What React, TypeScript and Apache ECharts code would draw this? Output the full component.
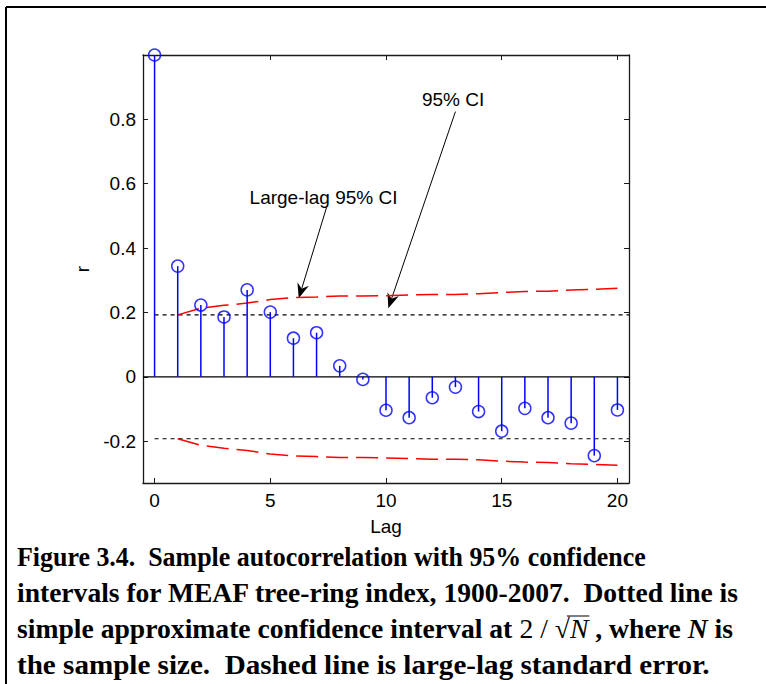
import React, { useEffect, useRef } from "react";
import * as echarts from "echarts";

// ---- data ----
const lags = [0, 1, 2, 3, 4, 5, 6, 7, 8, 9, 10, 11, 12, 13, 14, 15, 16, 17, 18, 19, 20];
const acf = [1.0, 0.344, 0.223, 0.186, 0.270, 0.201, 0.120, 0.137, 0.034, -0.008, -0.104, -0.127, -0.065, -0.032, -0.108, -0.169, -0.098, -0.127, -0.144, -0.245, -0.103];
const ciLags = [1, 2, 3, 4, 5, 6, 7, 8, 9, 10, 11, 12, 13, 14, 15, 16, 17, 18, 19, 20];
const largeLagCI = [0.1925, 0.213, 0.222, 0.229, 0.240, 0.246, 0.248, 0.251, 0.251, 0.252, 0.254, 0.256, 0.256, 0.258, 0.262, 0.265, 0.266, 0.270, 0.272, 0.275];
const simpleCI = 0.1925;
const simpleCIRange = [0, 20.5];
const xRange = [-0.5, 20.5];
const yRange = [-0.33, 1.0];
const xTicks = [0, 5, 10, 15, 20];
const yTicks = [-0.2, 0, 0.2, 0.4, 0.6, 0.8];

// annotations (data coordinates)
const annLabels = ["Large-lag 95% CI", "95% CI"];
const annTextAt = [[7.3, 0.557], [12.9, 0.862]];
const annTail = [[7.43, 0.526], [13.0, 0.824]];
const annTip = [[6.23, 0.244], [10.1, 0.213]];

const captionLines = [
  "Figure 3.4.\u00a0 Sample autocorrelation with 95% confidence",
  "intervals for MEAF tree-ring index, 1900-2007.\u00a0 Dotted line is",
  "",
  "the sample size.\u00a0 Dashed line is large-lag standard error.",
];
const caption3 = ["simple approximate confidence interval at ", "2 / \u221a", "N", " , where ", "N", " is"];
const captionRightEdge = [646, 740, 733, 710];

const SANS = "'Liberation Sans', Arial, sans-serif";
const SERIF = "'Liberation Serif', 'Times New Roman', serif";
const AX = "#1a1a1a";

export default function App() {
  const ref = useRef<HTMLDivElement>(null);
  useEffect(() => {
    const chart = echarts.init(ref.current!, null, { renderer: "svg" });
    const axisCommon = {
      type: "value",
      splitLine: { show: false },
      axisLine: { show: true, onZero: false, lineStyle: { color: AX, width: 1.3 } },
    };
    const labelStyle = { color: "#000", fontFamily: SANS, fontSize: 19 };
    const option: any = {
      animation: false,
      backgroundColor: "#ffffff",
      grid: { left: 143, top: 55, right: 137, bottom: 201 },
      xAxis: [
        {
          ...axisCommon,
          min: xRange[0], max: xRange[1], position: "bottom",
          name: "Lag", nameLocation: "middle", nameGap: 34,
          nameTextStyle: { ...labelStyle },
          axisTick: { show: true, inside: true, length: 5, customValues: xTicks, lineStyle: { color: AX } },
          axisLabel: { show: true, customValues: xTicks, margin: 8, ...labelStyle },
        },
        {
          ...axisCommon,
          min: xRange[0], max: xRange[1], position: "top",
          axisTick: { show: true, inside: true, length: 5, customValues: xTicks, lineStyle: { color: AX } },
          axisLabel: { show: false },
        },
      ],
      yAxis: [
        {
          ...axisCommon,
          min: yRange[0], max: yRange[1], position: "left",
          name: "r", nameLocation: "middle", nameGap: 46, nameRotate: 90,
          nameTextStyle: { ...labelStyle },
          axisTick: { show: true, inside: true, length: 5, customValues: yTicks, lineStyle: { color: AX } },
          axisLabel: {
            show: true, customValues: yTicks, margin: 7, ...labelStyle,
            formatter: (v: number) => String(Math.round(v * 10) / 10),
          },
        },
        {
          ...axisCommon,
          min: yRange[0], max: yRange[1], position: "right",
          axisTick: { show: true, inside: true, length: 5, customValues: yTicks, lineStyle: { color: AX } },
          axisLabel: { show: false },
        },
      ],
      series: [
        {
          type: "line", symbol: "none", silent: true,
          data: [[xRange[0], 0], [xRange[1], 0]],
          lineStyle: { color: "#000", width: 1.3 }, z: 1,
        },
        {
          type: "line", symbol: "none", silent: true,
          data: simpleCIRange.map((x) => [x, simpleCI]),
          lineStyle: { color: "#000", width: 1.1, type: [4, 4] }, z: 2,
        },
        {
          type: "line", symbol: "none", silent: true,
          data: simpleCIRange.map((x) => [x, -simpleCI]),
          lineStyle: { color: "#000", width: 1.1, type: [4, 4] }, z: 2,
        },
        {
          type: "line", symbol: "none", silent: true,
          data: ciLags.map((l, i) => [l, largeLagCI[i]]),
          lineStyle: { color: "#ff0000", width: 1.5, type: [22, 8] }, z: 3,
        },
        {
          type: "line", symbol: "none", silent: true,
          data: ciLags.map((l, i) => [l, -largeLagCI[i]]),
          lineStyle: { color: "#ff0000", width: 1.5, type: [22, 8] }, z: 3,
        },
        {
          type: "custom", silent: true, z: 4,
          data: lags.map((l, i) => [l, acf[i]]),
          encode: { x: 0, y: 1 },
          renderItem: (params: any, api: any) => {
            const x = api.value(0);
            const y = api.value(1);
            const p0 = api.coord([x, 0]);
            const p1 = api.coord([x, y]);
            return {
              type: "line",
              shape: { x1: p0[0], y1: p0[1], x2: p1[0], y2: p1[1] },
              style: { stroke: "#0000ff", lineWidth: 1.5 },
            };
          },
        },
        {
          type: "scatter", silent: true, z: 5, clip: false,
          data: lags.map((l, i) => [l, acf[i]]),
          symbol: "circle", symbolSize: 12,
          itemStyle: { color: "rgba(0,0,0,0)", borderColor: "#0000ff", borderWidth: 1.5 },
        },
      ],
    };
    chart.setOption(option);

    const toPx = (p: number[]) => chart.convertToPixel({ xAxisIndex: 0, yAxisIndex: 0 }, p) as number[];
    const graphics: any[] = [];
    // outer frame
    graphics.push({ type: "line", shape: { x1: 6, y1: 7, x2: 766, y2: 7 }, style: { stroke: "#000", lineWidth: 2 } });
    graphics.push({ type: "line", shape: { x1: 6, y1: 7, x2: 6, y2: 684 }, style: { stroke: "#000", lineWidth: 2 } });

    annLabels.forEach((lab, i) => {
      const t = toPx(annTextAt[i]);
      const s = toPx(annTail[i]);
      const e = toPx(annTip[i]);
      const dx = e[0] - s[0], dy = e[1] - s[1];
      const len = Math.hypot(dx, dy);
      const ux = dx / len, uy = dy / len;
      const nx = -uy, ny = ux;
      const L = 15, W = 12, notch = 5;
      const back = [e[0] - ux * L, e[1] - uy * L];
      const mid = [e[0] - ux * (L - notch), e[1] - uy * (L - notch)];
      graphics.push({
        type: "text", x: t[0], y: t[1],
        style: { text: lab, fill: "#000", font: `19px ${SANS}`, align: "center", verticalAlign: "middle" },
      });
      graphics.push({
        type: "line", shape: { x1: s[0], y1: s[1], x2: mid[0], y2: mid[1] },
        style: { stroke: "#000", lineWidth: 1 },
      });
      graphics.push({
        type: "polygon",
        shape: {
          points: [
            [e[0], e[1]],
            [back[0] + nx * W / 2, back[1] + ny * W / 2],
            [mid[0], mid[1]],
            [back[0] - nx * W / 2, back[1] - ny * W / 2],
          ],
        },
        style: { fill: "#000" },
      });
    });

    // caption
    const capSize = 27;
    const capY = [557, 593, 629, 665];
    const capX = 17;
    const cv = document.createElement("canvas").getContext("2d")!;
    captionLines.forEach((line, i) => {
      if (!line) return;
      const font = `bold ${capSize}px ${SERIF}`;
      cv.font = font;
      const w = cv.measureText(line).width;
      const sx = (captionRightEdge[i] - capX) / w;
      graphics.push({
        type: "text", x: capX, y: capY[i], scaleX: sx,
        style: { text: line, fill: "#000", font, align: "left", verticalAlign: "middle" },
      });
    });
    // line 3 with math
    const fonts = [
      `bold ${capSize}px ${SERIF}`,
      `${capSize}px ${SERIF}`,
      `italic ${capSize}px ${SERIF}`,
      `bold ${capSize}px ${SERIF}`,
      `bold italic ${capSize}px ${SERIF}`,
      `bold ${capSize}px ${SERIF}`,
    ];
    const widths = caption3.map((seg, k) => {
      cv.font = fonts[k];
      return cv.measureText(seg).width;
    });
    const total = widths.reduce((a, b) => a + b, 0);
    const s3 = (captionRightEdge[2] - capX) / total;
    let off = 0;
    let overX1 = 0, overX2 = 0;
    caption3.forEach((seg, k) => {
      const x = capX + off * s3;
      graphics.push({
        type: "text", x, y: capY[2], scaleX: s3,
        style: { text: seg, fill: "#000", font: fonts[k], align: "left", verticalAlign: "middle" },
      });
      if (k === 1) {
        cv.font = fonts[1];
        overX1 = x + (cv.measureText("2 / ").width + cv.measureText("\u221a").width * 0.8) * s3;
      }
      if (k === 2) overX2 = x + widths[k] * s3 + 1;
      off += widths[k];
    });
    graphics.push({
      type: "line", shape: { x1: overX1, y1: capY[2] - 13, x2: overX2, y2: capY[2] - 13 },
      style: { stroke: "#000", lineWidth: 1 },
    });

    chart.setOption({ graphic: graphics });
    return () => chart.dispose();
  }, []);
  return <div ref={ref} style={{ position: "absolute", left: 0, top: 0, width: 766, height: 684 }} />;
}
